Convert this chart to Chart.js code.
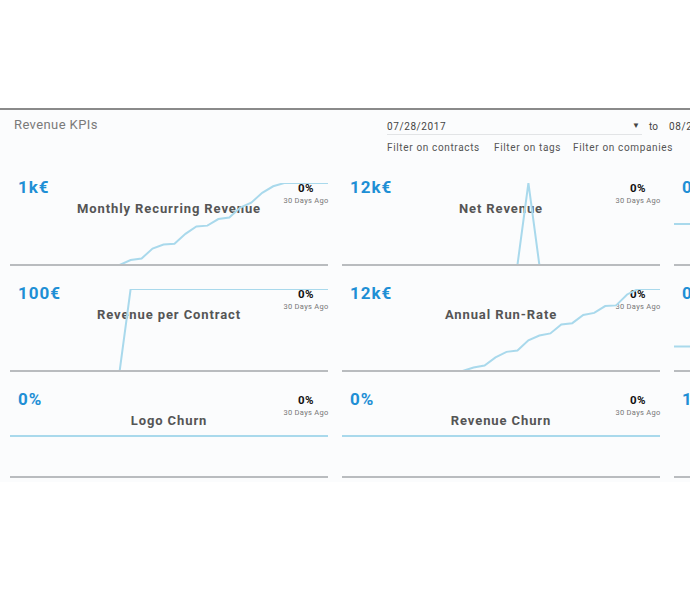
<!DOCTYPE html>
<html>
<head>
<meta charset="utf-8">
<script src="https://cdn.jsdelivr.net/npm/chart.js@4"></script>
<style>
  body { margin: 0; width: 690px; height: 590px; background: #fff; overflow: hidden; font-family: Roboto, sans-serif; position: relative; }
  .panel { position: absolute; left: 0; top: 108px; width: 700px; height: 372px; background: #fbfcfd; border-top: 2px solid #8a8a8a; }
  .t { position: absolute; white-space: nowrap; }
  .card { position: absolute; width: 318px; }
  .val { position: absolute; left: 8px; font-weight: bold; font-size: 17px; letter-spacing: 1px; color: #1e8fd5; }
  .name { position: absolute; left: 0; width: 318px; text-align: center; font-weight: bold; font-size: 13px; letter-spacing: 0.9px; color: #555; }
  .pct { position: absolute; left: 270px; width: 52px; text-align: center; font-weight: bold; font-size: 11.5px; letter-spacing: 0.5px; color: #111; }
  .ago { position: absolute; left: 258px; width: 76px; text-align: center; font-size: 7.5px; letter-spacing: 0.3px; color: #777; }
  .base { position: absolute; left: 0; width: 318px; height: 0; border-top: 2px solid #b9bcbf; z-index: 2; }
  canvas { position: absolute; z-index: 1; }
</style>
</head>
<body>
<div class="panel"></div>
<div class="t" style="left:14px;top:117px;font-size:13px;letter-spacing:0.4px;color:#7a7a7a;">Revenue KPIs</div>
<div class="t" style="left:387px;top:121px;font-size:10px;letter-spacing:0.6px;color:#444;">07/28/2017</div>
<div class="t" style="left:387px;top:134px;width:255px;border-top:1px solid #e2e4e6;"></div>
<div class="t" style="left:632px;top:121px;font-size:8px;color:#444;">&#9660;</div>
<div class="t" style="left:649px;top:121px;font-size:10px;color:#444;">to</div>
<div class="t" style="left:669px;top:121px;font-size:10px;letter-spacing:0.6px;color:#444;">08/2</div>
<div class="t" style="left:387px;top:142px;font-size:10px;letter-spacing:0.65px;color:#555;">Filter on contracts</div>
<div class="t" style="left:494px;top:142px;font-size:10px;letter-spacing:0.65px;color:#555;">Filter on tags</div>
<div class="t" style="left:573px;top:142px;font-size:10px;letter-spacing:0.65px;color:#555;">Filter on companies</div>
<script>
const days = Array.from({length: 30}, (_, i) => 'd' + (i + 1));
const mrr = [0,0,0,0,0,0,0,0,0,0,0,60,80,200,250,260,380,470,480,560,580,700,760,880,960,1000,1000,1000,1000,1000];
const netRevenue = [0,0,0,0,0,0,0,0,0,0,0,0,0,0,0,0,0,12000,0,0,0,0,0,0,0,0,0,0,0,0];
const revenuePerContract = [0,0,0,0,0,0,0,0,0,0,0,100,100,100,100,100,100,100,100,100,100,100,100,100,100,100,100,100,100,100];
const arr = [0,0,0,0,0,0,0,0,0,0,0,0,500,800,2000,2800,3000,4500,5200,5500,6800,7000,8200,8500,9500,9600,11200,12000,12000,12000];
const flat = new Array(30).fill(0);
const cards = [
  {col: 0, row: 0, value: '1k€', name: 'Monthly Recurring Revenue', data: mrr, min: 0, max: 1000},
  {col: 1, row: 0, value: '12k€', name: 'Net Revenue', data: netRevenue, min: 0, max: 12000},
  {col: 2, row: 0, value: '0', name: '', data: flat, min: -1, max: 1},
  {col: 0, row: 1, value: '100€', name: 'Revenue per Contract', data: revenuePerContract, min: 0, max: 100},
  {col: 1, row: 1, value: '12k€', name: 'Annual Run-Rate', data: arr, min: 0, max: 12000},
  {col: 2, row: 1, value: '0', name: '', data: flat, min: -0.3, max: 0.7},
  {col: 0, row: 2, value: '0%', name: 'Logo Churn', data: flat, min: -1, max: 1},
  {col: 1, row: 2, value: '0%', name: 'Revenue Churn', data: flat, min: -1, max: 1},
  {col: 2, row: 2, value: '1', name: '', data: null, min: 0, max: 1}
];
cards.forEach(c => {
  const left = 10 + c.col * 332, top = 176 + c.row * 106;
  const d = document.createElement('div');
  d.className = 'card';
  d.style.left = left + 'px';
  d.style.top = top + 'px';
  d.innerHTML = `<div class="val" style="top:1px">${c.value}</div>` +
    (c.col < 2 ? `<div class="name" style="top:25px">${c.name}</div><div class="pct" style="top:5px">0%</div><div class="ago" style="top:20px">30 Days Ago</div>` : '') +
    `<div class="base" style="top:88px"></div>`;
  document.body.appendChild(d);
  if (!c.data) return;
  const cv = document.createElement('canvas');
  cv.style.left = left + 'px';
  cv.style.top = (top + 7) + 'px';
  cv.style.width = '318px';
  cv.style.height = '82px';
  cv.width = 318; cv.height = 82;
  document.body.appendChild(cv);
  new Chart(cv, {
    type: 'line',
    data: { labels: days, datasets: [{ data: c.data, borderColor: '#a9d9ec', borderWidth: 2, pointRadius: 0, tension: 0, fill: false, clip: false }] },
    options: {
      responsive: false, animation: false,
      layout: { padding: 0 },
      plugins: { legend: { display: false }, tooltip: { enabled: false } },
      scales: {
        x: { display: false, offset: false },
        y: { display: false, min: c.min, max: c.max }
      }
    }
  });
});
</script>
</body>
</html>
